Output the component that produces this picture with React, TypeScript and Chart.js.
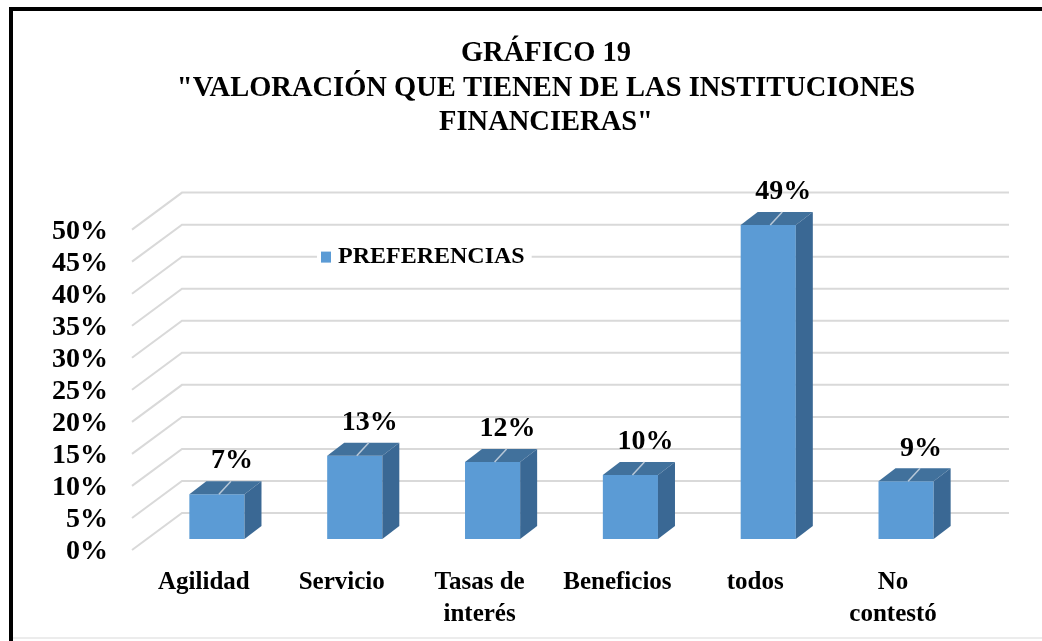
import React, { useEffect, useRef } from 'react';
import { Chart, registerables } from 'chart.js';

Chart.register(...registerables);

const TITLE_LINES = ['GRÁFICO 19', '"VALORACIÓN QUE TIENEN DE LAS INSTITUCIONES', 'FINANCIERAS"'];
const CATEGORIES = [['Agilidad'], ['Servicio'], ['Tasas de', 'interés'], ['Beneficios'], ['todos'], ['No', 'contestó']];
const SERIES_LABEL = 'PREFERENCIAS';
const VALUES = [7, 13, 12, 10, 49, 9];
const Y_TICK_VALUES = [0, 5, 10, 15, 20, 25, 30, 35, 40, 45, 50];

const FONT = "'Liberation Serif', 'Times New Roman', serif";
const FRONT_COLOR = '#5b9bd5';
const TOP_COLOR = '#41719c';
const SIDE_COLOR = '#3a6894';
const GRID_COLOR = '#d9d9d9';

// 3D geometry offsets (relative to bar front faces)
const FLOOR_FRONT = { dx: -16, dy: 11 };
const FLOOR_BACK = { dx: 34, dy: -26 };
const BAR_DEPTH = { dx: 17, dy: -13 };

const threeDPlugin = {
  id: 'threeD',
  afterLayout(chart: any) {
    const tb = chart.titleBlock;
    if (tb) {
      tb.left = 117;
      tb.right = chart.chartArea.right;
      tb.width = tb.right - tb.left;
    }
  },
  beforeDraw(chart: any) {
    const { ctx, width, height } = chart;
    ctx.save();
    ctx.fillStyle = '#ffffff';
    ctx.fillRect(0, 0, width, height);
    ctx.fillStyle = '#000000';
    ctx.fillRect(9, 7, 4, height - 7);
    ctx.fillRect(9, 7, width - 9, 4);
    ctx.fillStyle = '#ececec';
    ctx.fillRect(13, height - 4, width - 13, 2);
    ctx.restore();
  },
  beforeDatasetsDraw(chart: any) {
    const { ctx, chartArea } = chart;
    const yScale = chart.scales.y;
    const xFL = chartArea.left + FLOOR_FRONT.dx;
    const xBL = chartArea.left + FLOOR_BACK.dx;
    const xBR = chartArea.right + FLOOR_BACK.dx;
    ctx.save();
    ctx.strokeStyle = GRID_COLOR;
    ctx.lineWidth = 2;
    yScale.ticks.forEach((t: any) => {
      const p = yScale.getPixelForValue(t.value);
      ctx.beginPath();
      ctx.moveTo(xFL, p + FLOOR_FRONT.dy);
      ctx.lineTo(xBL, p + FLOOR_BACK.dy);
      ctx.lineTo(xBR, p + FLOOR_BACK.dy);
      ctx.stroke();
    });
    ctx.restore();
  },
  afterDatasetsDraw(chart: any) {
    const { ctx } = chart;
    const meta = chart.getDatasetMeta(0);
    const data = chart.data.datasets[0].data;
    ctx.save();
    meta.data.forEach((el: any, i: number) => {
      const { x, y, base, width } = el.getProps(['x', 'y', 'base', 'width'], true);
      const l = x - width / 2;
      const r = x + width / 2;
      const { dx, dy } = BAR_DEPTH;
      // top face
      ctx.fillStyle = TOP_COLOR;
      ctx.beginPath();
      ctx.moveTo(l, y);
      ctx.lineTo(l + dx, y + dy);
      ctx.lineTo(r + dx, y + dy);
      ctx.lineTo(r, y);
      ctx.closePath();
      ctx.fill();
      // side face
      ctx.fillStyle = SIDE_COLOR;
      ctx.beginPath();
      ctx.moveTo(r, y);
      ctx.lineTo(r + dx, y + dy);
      ctx.lineTo(r + dx, base + dy);
      ctx.lineTo(r, base);
      ctx.closePath();
      ctx.fill();
      // leader line
      ctx.strokeStyle = '#b8c8d8';
      ctx.lineWidth = 1.5;
      ctx.beginPath();
      ctx.moveTo(x + 2, y);
      ctx.lineTo(x + 14, y + dy);
      ctx.stroke();
      // label
      ctx.fillStyle = '#000000';
      ctx.font = `bold 28px ${FONT}`;
      ctx.textAlign = 'center';
      ctx.textBaseline = 'middle';
      ctx.fillText(`${data[i]}%`, x + 15, y - 33);
    });
    ctx.restore();
  },
  afterDraw(chart: any) {
    const { ctx, chartArea } = chart;
    const label = chart.data.datasets[0].label;
    const lx = chartArea.left + 173;
    const ly = chartArea.top + 38.5;
    ctx.save();
    ctx.font = `bold 24px ${FONT}`;
    const tw = ctx.measureText(label).width;
    ctx.fillStyle = '#ffffff';
    ctx.fillRect(lx - 4, ly - 12, tw + 28, 24);
    ctx.fillStyle = FRONT_COLOR;
    ctx.fillRect(lx, ly - 5.5, 10, 11);
    ctx.fillStyle = '#000000';
    ctx.textAlign = 'left';
    ctx.textBaseline = 'middle';
    ctx.fillText(label, lx + 17, ly);
    ctx.restore();
  },
};

export default function App() {
  const ref = useRef<HTMLCanvasElement | null>(null);

  useEffect(() => {
    if (!ref.current) return;
    const chart = new Chart(ref.current, {
      type: 'bar',
      data: {
        labels: CATEGORIES,
        datasets: [
          {
            label: SERIES_LABEL,
            data: VALUES,
            backgroundColor: FRONT_COLOR,
            borderWidth: 0,
            barPercentage: 0.4,
            categoryPercentage: 1,
          },
        ],
      },
      options: {
        responsive: false,
        animation: false,
        layout: { padding: { left: 0, right: 67, top: 0, bottom: 0 } },
        plugins: {
          legend: { display: false },
          tooltip: { enabled: false },
          title: {
            display: true,
            text: TITLE_LINES,
            color: '#000000',
            font: { family: FONT, size: 28.5, weight: 'bold', lineHeight: 1.2 },
            padding: { top: 37, bottom: 79 },
          },
        },
        scales: {
          x: {
            grid: { display: false, drawTicks: false },
            border: { display: false },
            afterFit: (scale: any) => {
              scale.height = 102;
            },
            ticks: {
              color: '#000000',
              font: { family: FONT, size: 25, weight: 'bold', lineHeight: 1.28 },
              padding: 28,
              labelOffset: -13,
              maxRotation: 0,
              autoSkip: false,
            },
          },
          y: {
            min: 0,
            max: 50,
            grid: { display: false, drawTicks: false },
            border: { display: false },
            afterFit: (scale: any) => {
              scale.width = 148;
            },
            afterBuildTicks: (scale: any) => {
              scale.ticks = Y_TICK_VALUES.map((v) => ({ value: v }));
            },
            ticks: {
              color: '#000000',
              font: { family: FONT, size: 28, weight: 'bold', lineHeight: 1 },
              padding: 40,
              labelOffset: 13,
              autoSkip: false,
              callback: (v: any) => `${v}%`,
            },
          },
        },
      },
      plugins: [threeDPlugin],
    });
    return () => chart.destroy();
  }, []);

  return (
    <canvas
      ref={ref}
      width={1042}
      height={641}
      style={{ position: 'fixed', left: 0, top: 0, display: 'block' }}
    />
  );
}
